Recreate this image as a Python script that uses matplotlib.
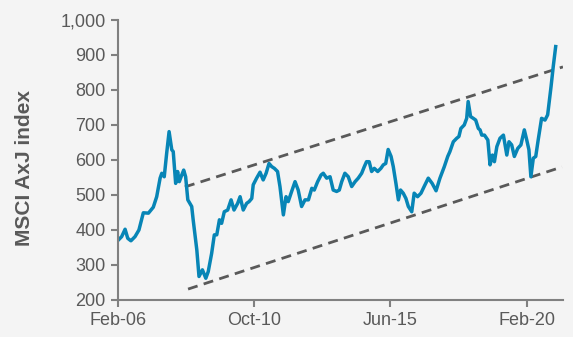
import matplotlib.pyplot as plt
from matplotlib.ticker import FuncFormatter

# months since Feb-06 and index level
months = [0.1, 1.5, 2.9, 4.0, 5.3, 7.0, 8.6, 10.4, 12.5, 14.5, 15.9, 17.3, 18.0, 19.0, 20.0,
          21.0, 22.1, 22.7, 23.7, 24.5, 25.2, 26.2, 27.0, 27.8, 28.7, 30.3, 30.9, 32.4, 33.3,
          34.7, 36.1, 37.1, 38.5, 39.6, 40.6, 41.7, 42.6, 43.7, 45.1, 46.5, 47.7, 49.2, 50.2,
          51.5, 52.9, 53.9, 55.0, 55.6, 57.0, 58.4, 59.7, 60.9, 62.1, 63.2, 64.3, 65.6, 66.6,
          68.0, 69.1, 70.0, 71.4, 72.8, 74.1, 75.5, 76.9, 78.3, 79.7, 80.7, 82.1, 83.5, 84.4,
          85.8, 87.2, 88.5, 89.9, 91.0, 92.0, 93.3, 94.7, 96.1, 97.5, 98.8, 100.2, 101.3,
          102.2, 103.3, 104.3, 105.4, 106.8, 108.1, 109.1, 110.1, 111.1, 112.3, 113.2, 114.3,
          115.3, 116.2, 117.3, 118.4, 119.4, 120.8, 121.8, 123.2, 124.6, 125.9, 127.6, 129.2,
          130.8, 132.4, 134.2, 135.6, 136.5, 137.9, 139.3, 140.2, 141.0, 142.4, 143.4, 144.0,
          145.0, 146.1, 147.1, 148.2, 148.9, 149.6, 150.7, 152.1, 153.0, 154.0, 154.8, 155.8,
          157.1, 158.5, 159.9, 160.8, 161.9, 163.0, 164.4, 165.7, 167.1, 168.1, 169.0, 169.8,
          170.8, 171.8, 172.8, 174.2, 175.6, 176.7, 178.1, 179.0, 180.0]
index = [371, 381, 402, 376, 369, 381, 400, 449, 448, 465, 495, 548, 562, 552, 619,
         681, 629, 624, 533, 567, 538, 557, 571, 552, 486, 467, 429, 343, 267,
         286, 262, 281, 333, 386, 386, 429, 419, 452, 457, 486, 457, 476, 495,
         457, 476, 481, 490, 529, 548, 565, 543, 562, 590, 581, 576, 567, 524,
         443, 495, 481, 510, 538, 514, 467, 486, 486, 519, 514, 538, 557, 562,
         548, 552, 514, 510, 514, 538, 562, 552, 524, 538, 548, 562, 581,
         595, 595, 567, 576, 567, 576, 586, 590, 630, 610, 581, 533,
         486, 514, 505, 490, 467, 452, 505, 495, 505, 524, 548, 533,
         512, 548, 581, 610, 624, 652, 662, 667, 690, 700, 719, 767,
         724, 719, 714, 690, 686, 671, 671, 657, 586, 614, 595, 638,
         662, 671, 614, 652, 643, 610, 633, 643, 686, 657, 629, 552,
         605, 610, 657, 719, 714, 729, 810, 867, 924]

# trend channel end points (month, level)
upper_x = [27.5, 183.0]
upper_y = [523, 866]
lower_x = [28.8, 182.6]
lower_y = [231, 580]

tick_months = [0, 56, 112, 168]
tick_labels = ['Feb-06', 'Oct-10', 'Jun-15', 'Feb-20']

bg = '#f4f4f4'
grey = '#595959'

plt.rcParams['font.family'] = ['Liberation Sans', 'DejaVu Sans']

fig = plt.figure(figsize=(5.73, 3.37), dpi=100, facecolor=bg)
ax = fig.add_axes([0.206, 0.11, 0.7765, 0.8307], facecolor=bg)

ax.plot(upper_x, upper_y, color=grey, lw=2, dashes=(3.6, 2.3))
ax.plot(lower_x, lower_y, color=grey, lw=2, dashes=(3.6, 2.3))
ax.plot(months, index, color='#0785b6', lw=2.5, solid_joinstyle='round')

ax.set_xlim(0, 183)
ax.set_ylim(200, 1000)
ax.set_yticks(range(200, 1001, 100))
ax.yaxis.set_major_formatter(FuncFormatter(lambda v, p: f'{int(v):,}'))
ax.set_xticks(tick_months)
ax.set_xticklabels(tick_labels)

for s in ['top', 'right']:
    ax.spines[s].set_visible(False)
for s in ['left', 'bottom']:
    ax.spines[s].set_color('#808080')
    ax.spines[s].set_linewidth(1.5)
ax.tick_params(colors='#808080', width=1.5, length=5, labelsize=13, labelcolor=grey)
ax.tick_params(axis='y', pad=4)
ax.tick_params(axis='x', pad=4)

ax.set_ylabel('MSCI AxJ index', fontsize=15, fontweight='bold', color=grey)
ax.yaxis.set_label_coords(-0.19, 0.47)

fig.savefig('out.png', dpi=100, facecolor=bg)
